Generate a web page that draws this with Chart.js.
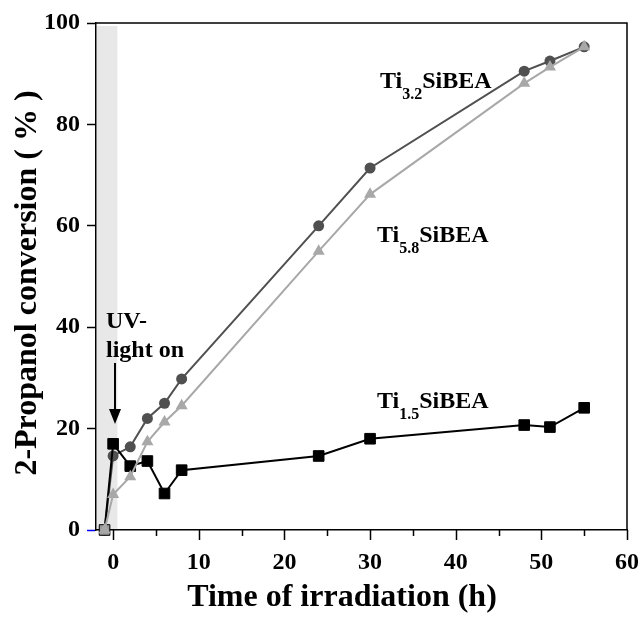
<!DOCTYPE html>
<html>
<head>
<meta charset="utf-8">
<script src="https://cdn.jsdelivr.net/npm/chart.js@4.4.1/dist/chart.umd.min.js"></script>
<style>
  html, body { margin: 0; padding: 0; background: #fff; }
</style>
</head>
<body>
<canvas id="chart" width="638" height="621"></canvas>
<script>
// data
const timeH = [-1, 0, 2, 4, 6, 8, 24, 30, 48, 51, 55];
const ti32 = [0, 14.6, 16.4, 22, 25, 29.8, 60, 71.4, 90.5, 92.5, 95.3];
const ti58 = [0, 7, 10.5, 17.4, 21.3, 24.5, 55, 66.2, 88.1, 91.3, 95.3];
const ti15 = [0, 17, 12.6, 13.6, 7.2, 11.8, 14.6, 18, 20.7, 20.3, 24.1];
const xTickValues = [0, 10, 20, 30, 40, 50, 60];
const yTickValues = [0, 20, 40, 60, 80, 100];

const FONT = '"Liberation Serif", "Times New Roman", serif';

const pts = ys => timeH.map((t, i) => ({ x: t, y: ys[i] }));

const decor = {
  id: 'decor',
  beforeDraw(chart) {
    const { ctx, scales: { x, y } } = chart;
    // grey "dark" period before UV on
    ctx.save();
    ctx.fillStyle = '#e8e8e8';
    const l = x.getPixelForValue(-2) + 1;
    const r = x.getPixelForValue(0.5);
    const t = y.getPixelForValue(99.4);
    ctx.fillRect(l, t, r - l, y.getPixelForValue(0) - t);
    ctx.restore();
  },
  afterDraw(chart) {
    const { ctx, chartArea: a, scales: { x, y } } = chart;
    ctx.save();
    ctx.strokeStyle = '#000';
    ctx.lineWidth = 1.5;
    // top + right frame
    ctx.beginPath();
    ctx.moveTo(a.left, a.top);
    ctx.lineTo(a.right, a.top);
    ctx.lineTo(a.right, a.bottom);
    ctx.stroke();
    // x tick marks, long at 10s, short at 5s
    for (let v = 0; v <= 60; v += 5) {
      const px = Math.round(x.getPixelForValue(v)) + 0.5;
      ctx.beginPath();
      ctx.moveTo(px, a.bottom);
      ctx.lineTo(px, a.bottom + (v % 10 === 0 ? 10 : 6));
      ctx.stroke();
    }

    ctx.fillStyle = '#000';
    ctx.textBaseline = 'alphabetic';
    ctx.textAlign = 'left';
    const label = (sub, lx, ly) => {
      ctx.font = 'bold 24px ' + FONT;
      ctx.fillText('Ti', lx, ly);
      let w = ctx.measureText('Ti').width;
      ctx.font = 'bold 16px ' + FONT;
      ctx.fillText(sub, lx + w, ly + 11);
      w += ctx.measureText(sub).width;
      ctx.font = 'bold 24px ' + FONT;
      ctx.fillText('SiBEA', lx + w, ly);
    };
    label('3.2', 380, 88);
    label('5.8', 377, 242);
    label('1.5', 377, 408);

    // UV light note + arrow
    ctx.font = 'bold 24px ' + FONT;
    ctx.fillText('UV-', 106, 328);
    ctx.fillText('light on', 106, 357);
    const ax = 115;
    ctx.lineWidth = 2;
    ctx.beginPath();
    ctx.moveTo(ax, 363);
    ctx.lineTo(ax, 412);
    ctx.stroke();
    ctx.beginPath();
    ctx.moveTo(ax - 6, 409);
    ctx.lineTo(ax + 6, 409);
    ctx.lineTo(ax, 424);
    ctx.closePath();
    ctx.fill();

    // axis titles
    ctx.font = 'bold 32px ' + FONT;
    ctx.textAlign = 'center';
    ctx.textBaseline = 'middle';
    ctx.fillText('Time of irradiation (h)', 342, 598);
    ctx.translate(28, 283);
    ctx.rotate(-Math.PI / 2);
    ctx.fillText('2-Propanol conversion ( % )', 0, 0);
    ctx.restore();
  }
};

new Chart(document.getElementById('chart'), {
  type: 'scatter',
  data: {
    datasets: [
      {
        label: 'Ti5.8SiBEA',
        data: pts(ti58),
        showLine: true,
        borderColor: '#a8a8a8',
        backgroundColor: '#a8a8a8',
        borderWidth: 2,
        pointStyle: 'triangle',
        pointRadius: 7,
        pointBorderWidth: 0,
        clip: false,
        order: 0
      },
      {
        label: 'Ti1.5SiBEA',
        data: pts(ti15),
        showLine: true,
        borderColor: '#000',
        backgroundColor: '#000',
        pointBackgroundColor: timeH.map((t, i) => i === 0 ? '#9a9a9a' : '#000'),
        pointBorderColor: '#000',
        borderWidth: 2,
        pointStyle: 'rect',
        pointRadius: 7.5,
        pointBorderWidth: 1,
        clip: false,
        order: 1
      },
      {
        label: 'Ti3.2SiBEA',
        data: pts(ti32),
        showLine: true,
        borderColor: '#505050',
        backgroundColor: '#505050',
        borderWidth: 2,
        pointStyle: 'circle',
        pointRadius: 5.5,
        pointBorderWidth: 0,
        clip: false,
        order: 2
      }
    ]
  },
  options: {
    responsive: false,
    animation: false,
    devicePixelRatio: 1,
    layout: { padding: { top: 23, right: 11, left: 0, bottom: 0 } },
    plugins: { legend: { display: false }, tooltip: { enabled: false } },
    scales: {
      x: {
        type: 'linear',
        min: -2,
        max: 60,
        afterFit: s => { s.height = 91; s.paddingRight = 0; s.paddingLeft = 0; },
        afterBuildTicks: s => { s.ticks = xTickValues.map(v => ({ value: v })); },
        ticks: {
          autoSkip: false,
          maxRotation: 0,
          padding: 8,
          color: '#000',
          font: { family: FONT, size: 24, weight: 'bold' }
        },
        grid: { display: true, drawOnChartArea: false, tickLength: 10, tickColor: 'rgba(0,0,0,0)' },
        border: { display: true, color: '#000', width: 1.5 }
      },
      y: {
        min: 0,
        max: 100,
        afterFit: s => { s.width = 96; },
        afterBuildTicks: s => { s.ticks = yTickValues.map(v => ({ value: v })); },
        ticks: {
          padding: 7,
          color: '#000',
          font: { family: FONT, size: 24, weight: 'bold' }
        },
        grid: {
          display: true,
          drawOnChartArea: false,
          tickLength: 9,
          tickWidth: 1.5,
          tickColor: c => (c.tick && c.tick.value === 0 ? '#0000ff' : '#000')
        },
        border: { display: true, color: '#000', width: 1.5 }
      }
    }
  },
  plugins: [decor]
});
</script>
</body>
</html>
